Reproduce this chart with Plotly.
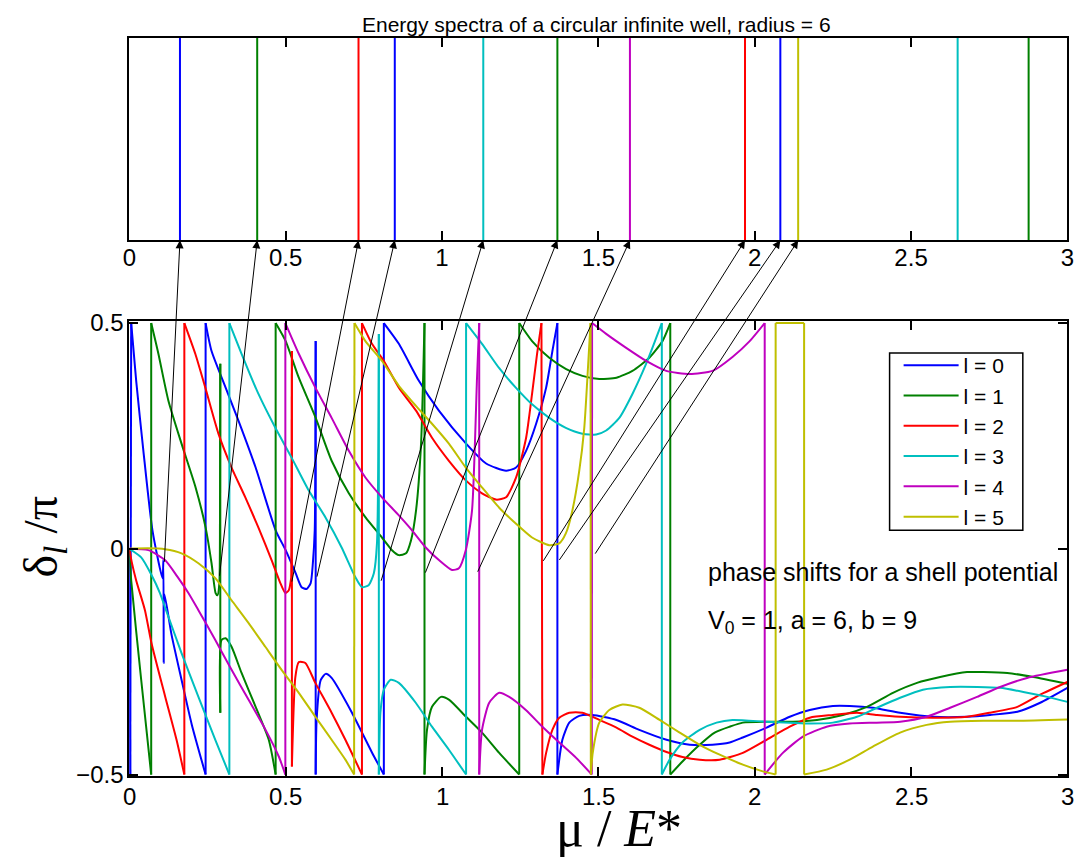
import plotly.graph_objects as go

# ---------------- data ----------------
names = ["l = 0", "l = 1", "l = 2", "l = 3", "l = 4", "l = 5"]
colors = ["#0000ff", "#008000", "#ff0000", "#00bfbf", "#bf00bf", "#bfbf00"]

# energy levels of the circular infinite well (top panel), per l
levels_l0 = [0.162, 0.849, 2.082]
levels_l1 = [0.409, 1.369, 2.876]
levels_l2 = [0.733, 1.969]
levels_l3 = [1.132, 2.649]
levels_l4 = [1.601]
levels_l5 = [2.139]

# phase shifts delta_l / pi (bottom panel), (mu/E*, value) pairs
l0_pts = [(0, 0), (0.003, -0.5), (0.006, 0.5), (0.022, 0.372), (0.045, 0.217), (0.074, 0.041),
          (0.106, -0.065), (0.109, -0.025), (0.110, -0.253), (0.112, -0.10), (0.135, -0.19),
          (0.167, -0.29), (0.20, -0.39), (0.244, -0.5), (0.244, 0.5), (0.263, 0.438), (0.308, 0.357),
          (0.349, 0.284), (0.404, 0.180), (0.468, 0.041), (0.5, -0.003), (0.532, -0.054),
          (0.551, -0.085), (0.567, -0.089), (0.580, -0.076), (0.587, -0.032), (0.593, 0.041),
          (0.596, 0.460), (0.596, -0.5), (0.599, -0.379), (0.612, -0.291), (0.628, -0.277),
          (0.647, -0.286), (0.712, -0.363), (0.776, -0.451), (0.814, -0.5), (0.814, 0.5),
          (0.862, 0.454), (0.926, 0.372), (0.990, 0.306), (1.077, 0.233), (1.141, 0.189),
          (1.205, 0.173), (1.237, 0.180), (1.269, 0.217), (1.301, 0.277), (1.333, 0.357),
          (1.353, 0.438), (1.369, 0.5), (1.369, -0.5), (1.385, -0.423), (1.407, -0.385),
          (1.439, -0.370), (1.481, -0.368), (1.558, -0.379), (1.631, -0.401), (1.718, -0.423),
          (1.792, -0.434), (1.865, -0.434), (1.920, -0.429), (1.962, -0.418), (2.038, -0.396),
          (2.112, -0.372), (2.176, -0.357), (2.25, -0.348), (2.304, -0.348), (2.378, -0.352),
          (2.465, -0.363), (2.571, -0.372), (2.679, -0.372), (2.753, -0.368), (2.84, -0.361),
          (2.913, -0.341), (3.0, -0.308)]

l1_pts = [(0, 0), (0.006, -0.07), (0.038, -0.29), (0.070, -0.5), (0.070, 0.5), (0.093, 0.432),
          (0.125, 0.328), (0.167, 0.233), (0.212, 0.136), (0.244, 0.047), (0.263, -0.032),
          (0.276, -0.098), (0.282, -0.103), (0.288, -0.076), (0.290, 0.063), (0.291, 0.410),
          (0.291, -0.363), (0.295, -0.202), (0.308, -0.198), (0.327, -0.217), (0.359, -0.275),
          (0.404, -0.350), (0.446, -0.423), (0.468, -0.5), (0.468, 0.5), (0.5, 0.460),
          (0.542, 0.379), (0.596, 0.290), (0.647, 0.195), (0.702, 0.123), (0.756, 0.069),
          (0.808, 0.025), (0.840, -0.003), (0.862, -0.014), (0.885, -0.010), (0.901, 0.019),
          (0.917, 0.085), (0.933, 0.233), (0.944, 0.5), (0.944, -0.5), (0.952, -0.401),
          (0.968, -0.350), (0.997, -0.328), (1.022, -0.334), (1.077, -0.372), (1.128, -0.407),
          (1.183, -0.452), (1.247, -0.5), (1.247, 0.5), (1.288, 0.460), (1.343, 0.423),
          (1.397, 0.398), (1.449, 0.383), (1.503, 0.376), (1.558, 0.379), (1.609, 0.394),
          (1.663, 0.423), (1.705, 0.460), (1.730, 0.5), (1.730, -0.5), (1.769, -0.471),
          (1.824, -0.434), (1.872, -0.407), (1.920, -0.394), (1.962, -0.385), (2.038, -0.383),
          (2.122, -0.383), (2.199, -0.379), (2.282, -0.368), (2.359, -0.350), (2.442, -0.319),
          (2.519, -0.297), (2.593, -0.284), (2.679, -0.273), (2.731, -0.273), (2.808, -0.275),
          (2.891, -0.284), (3.0, -0.299)]

l2_pts = [(0, 0), (0.008, -0.03), (0.022, -0.070), (0.050, -0.136), (0.071, -0.209), (0.115, -0.328),
          (0.151, -0.423), (0.176, -0.5), (0.176, 0.5), (0.211, 0.432), (0.243, 0.357),
          (0.285, 0.255), (0.327, 0.180), (0.371, 0.114), (0.413, 0.047), (0.455, -0.025),
          (0.483, -0.076), (0.499, -0.098), (0.510, -0.092), (0.518, -0.063), (0.520, 0.438),
          (0.520, -0.482), (0.531, -0.284), (0.542, -0.251), (0.563, -0.253), (0.595, -0.297),
          (0.647, -0.363), (0.691, -0.423), (0.744, -0.5), (0.744, 0.5), (0.776, 0.454),
          (0.814, 0.416), (0.862, 0.357), (0.917, 0.306), (0.968, 0.246), (1.022, 0.195),
          (1.077, 0.151), (1.128, 0.123), (1.173, 0.109), (1.205, 0.114), (1.237, 0.158),
          (1.269, 0.246), (1.288, 0.343), (1.304, 0.432), (1.318, 0.5), (1.321, -0.5),
          (1.333, -0.452), (1.353, -0.401), (1.375, -0.374), (1.407, -0.363), (1.449, -0.363),
          (1.503, -0.379), (1.558, -0.396), (1.609, -0.416), (1.663, -0.434), (1.718, -0.450),
          (1.769, -0.461), (1.824, -0.467), (1.888, -0.467), (1.962, -0.452), (2.038, -0.423),
          (2.112, -0.394), (2.176, -0.374), (2.25, -0.368), (2.327, -0.363), (2.391, -0.368),
          (2.465, -0.372), (2.571, -0.374), (2.679, -0.372), (2.753, -0.363), (2.84, -0.350),
          (2.913, -0.323), (3.0, -0.295)]

l3_pts = [(0, 0), (0.038, -0.019), (0.071, -0.058), (0.098, -0.098), (0.114, -0.129), (0.167, -0.231),
          (0.221, -0.328), (0.275, -0.423), (0.320, -0.5), (0.320, 0.5), (0.359, 0.432),
          (0.413, 0.343), (0.467, 0.268), (0.519, 0.202), (0.574, 0.129), (0.627, 0.070),
          (0.679, 0.003), (0.723, -0.063), (0.744, -0.085), (0.766, -0.080), (0.782, -0.054),
          (0.792, 0.012), (0.798, 0.476), (0.798, -0.5), (0.803, -0.363), (0.814, -0.312),
          (0.836, -0.290), (0.862, -0.297), (0.916, -0.341), (0.968, -0.394), (1.022, -0.445),
          (1.077, -0.5), (1.077, 0.5), (1.128, 0.454), (1.183, 0.400), (1.236, 0.357),
          (1.288, 0.320), (1.343, 0.290), (1.396, 0.268), (1.449, 0.255), (1.493, 0.253),
          (1.525, 0.262), (1.567, 0.290), (1.609, 0.343), (1.653, 0.410), (1.685, 0.467),
          (1.703, 0.5), (1.703, -0.5), (1.728, -0.467), (1.769, -0.429), (1.824, -0.401),
          (1.878, -0.385), (1.929, -0.379), (2.038, -0.383), (2.112, -0.385), (2.176, -0.387),
          (2.25, -0.385), (2.327, -0.372), (2.391, -0.352), (2.465, -0.330), (2.538, -0.312),
          (2.625, -0.306), (2.712, -0.306), (2.785, -0.308), (2.859, -0.317), (2.936, -0.328),
          (3.0, -0.339)]

l4_pts = [(0, 0), (0.061, -0.003), (0.114, -0.025), (0.157, -0.065), (0.189, -0.098), (0.221, -0.136),
          (0.275, -0.202), (0.327, -0.268), (0.381, -0.334), (0.435, -0.400), (0.478, -0.460),
          (0.499, -0.5), (0.499, 0.5), (0.542, 0.432), (0.595, 0.357), (0.647, 0.290),
          (0.702, 0.217), (0.755, 0.158), (0.808, 0.114), (0.862, 0.074), (0.904, 0.041),
          (0.948, 0.003), (0.990, -0.025), (1.032, -0.047), (1.054, -0.043), (1.076, -0.003),
          (1.096, 0.085), (1.112, 0.379), (1.119, 0.5), (1.119, -0.5), (1.128, -0.401),
          (1.151, -0.341), (1.183, -0.319), (1.215, -0.328), (1.268, -0.357), (1.321, -0.394),
          (1.375, -0.429), (1.429, -0.463), (1.479, -0.5), (1.480, 0.5), (1.525, 0.476),
          (1.589, 0.445), (1.653, 0.416), (1.717, 0.394), (1.792, 0.387), (1.865, 0.394),
          (1.929, 0.425), (1.984, 0.460), (2.032, 0.5), (2.032, -0.5), (2.090, -0.452),
          (2.154, -0.416), (2.230, -0.394), (2.304, -0.387), (2.390, -0.385), (2.465, -0.383),
          (2.550, -0.372), (2.625, -0.352), (2.711, -0.328), (2.785, -0.306), (2.871, -0.286),
          (3.0, -0.268)]

l5_pts = [(0, 0), (0.061, 0.001), (0.114, -0.001), (0.167, -0.010), (0.221, -0.032), (0.275, -0.065),
          (0.327, -0.114), (0.381, -0.164), (0.435, -0.217), (0.487, -0.268), (0.542, -0.319),
          (0.595, -0.372), (0.647, -0.423), (0.691, -0.467), (0.719, -0.5), (0.720, 0.5),
          (0.755, 0.460), (0.808, 0.416), (0.862, 0.361), (0.916, 0.317), (0.968, 0.277),
          (1.022, 0.233), (1.076, 0.180), (1.128, 0.136), (1.183, 0.091), (1.236, 0.056),
          (1.288, 0.025), (1.343, 0.008), (1.375, 0.012), (1.396, 0.034), (1.417, 0.085),
          (1.439, 0.173), (1.455, 0.268), (1.465, 0.379), (1.475, 0.5), (1.476, -0.5),
          (1.482, -0.452), (1.503, -0.385), (1.535, -0.357), (1.577, -0.345), (1.631, -0.352),
          (1.696, -0.379), (1.760, -0.407), (1.824, -0.434), (1.888, -0.456), (1.962, -0.478),
          (2.026, -0.493), (2.067, -0.5), (2.067, 0.5), (2.158, 0.5), (2.158, -0.5),
          (2.230, -0.489), (2.304, -0.467), (2.378, -0.438), (2.465, -0.407), (2.550, -0.390),
          (2.625, -0.383), (2.731, -0.381), (2.839, -0.381), (3.0, -0.378)]

# arrows: from a point of the phase-shift panel to a level of the spectrum
arrow_head_x = [0.162, 0.409, 0.733, 0.849, 1.132, 1.369, 1.601, 1.969, 2.082, 2.139]
arrow_tail_x = [0.112, 0.288, 0.519, 0.599, 0.804, 0.945, 1.112, 1.321, 1.372, 1.487]
arrow_tail_y = [-0.032, -0.063, -0.076, -0.065, -0.074, -0.056, -0.054, -0.030, -0.028, -0.014]

x_ticks = [0, 0.5, 1, 1.5, 2, 2.5, 3]
x_ticktext = ["0", "0.5", "1", "1.5", "2", "2.5", "3"]
y_ticks = [-0.5, 0, 0.5]
y_ticktext = ["\u22120.5", "0", "0.5"]

# ---------------- geometry ----------------
W, H = 1083, 868
# the page is photographed slightly scaled / offset; map wanted screen px -> page px
SX, OX = 0.9854, 7.9
SY, OY = 0.9756, 9.9


def sx(t):
    return (t - OX) / SX


def sy(t):
    return (t - OY) / SY


def pxx(t):          # wanted screen x -> paper fraction
    return sx(t) / W


def pxy(t):          # wanted screen y -> paper fraction
    return 1 - sy(t) / H


PX_X0, PX_X1 = 130.0, 1066.5
TOP_PY0, TOP_PY1 = 36.0, 239.0
BOT_PY0, BOT_PY1 = 322.0, 775.0     # rows of +0.5 and -0.5
YPAD = 0.004

top0, top1 = sy(TOP_PY0), sy(TOP_PY1)
bot0, bot1 = sy(BOT_PY0), sy(BOT_PY1)
bot_scale = bot1 - bot0

x_dom = [pxx(PX_X0), pxx(PX_X1)]
top_dom = [1 - top1 / H, 1 - top0 / H]
bot_dom = [1 - (bot1 + YPAD * bot_scale) / H, 1 - (bot0 - YPAD * bot_scale) / H]

FONT = "Liberation Sans, Arial, sans-serif"
SERIF = "Liberation Serif, Times New Roman, serif"

fig = go.Figure()

# top panel: spectrum lines
all_levels = [levels_l0, levels_l1, levels_l2, levels_l3, levels_l4, levels_l5]
for lev, col in zip(all_levels, colors):
    xs, ys = [], []
    for v in lev:
        xs += [v, v, None]
        ys += [0, 1, None]
    fig.add_trace(go.Scatter(x=xs, y=ys, mode="lines", line=dict(color=col, width=2),
                             showlegend=False, hoverinfo="skip", xaxis="x", yaxis="y"))


def split_wraps(pts):
    """smooth branches (separated at the +-pi/2 wraps) and the vertical wrap segments"""
    sxs, sys_, jx, jy = [], [], [], []
    for i, (x, y) in enumerate(pts):
        if i > 0:
            x0, y0 = pts[i - 1]
            if abs(x - x0) < 0.01 and abs(y - y0) > 0.5:
                sxs.append(None)
                sys_.append(None)
                jx += [x0, x, None]
                jy += [y0, y, None]
        sxs.append(x)
        sys_.append(y)
    return sxs, sys_, jx, jy


# bottom panel: phase shifts
all_pts = [l0_pts, l1_pts, l2_pts, l3_pts, l4_pts, l5_pts]
for pts, col, nm in zip(all_pts, colors, names):
    bx, by, jx, jy = split_wraps(pts)
    fig.add_trace(go.Scatter(x=bx, y=by, mode="lines",
                             line=dict(color=col, width=2, shape="spline", smoothing=0.6),
                             name=nm, legendgroup=nm, connectgaps=False,
                             xaxis="x2", yaxis="y2"))
    fig.add_trace(go.Scatter(x=jx, y=jy, mode="lines", line=dict(color=col, width=2),
                             legendgroup=nm, showlegend=False, hoverinfo="skip",
                             xaxis="x2", yaxis="y2"))

axis_common = dict(showline=True, linecolor="black", linewidth=2, mirror="ticks",
                   showgrid=False, zeroline=False, ticks="inside", ticklen=9, tickwidth=1.5,
                   tickcolor="black", tickfont=dict(family=FONT, size=24, color="black"))

fig.update_layout(
    width=W, height=H,
    margin=dict(l=0, r=0, t=0, b=0),
    paper_bgcolor="white", plot_bgcolor="white",
    xaxis=dict(domain=x_dom, range=[0, 3], anchor="y", tickvals=x_ticks, ticktext=x_ticktext,
               ticklabelstandoff=-5, **axis_common),
    yaxis=dict(domain=top_dom, range=[0, 1], anchor="x", showline=True, linecolor="black",
               linewidth=2, mirror=True, showgrid=False, zeroline=False, ticks="",
               showticklabels=False),
    xaxis2=dict(domain=x_dom, range=[0, 3], anchor="y2", tickvals=x_ticks,
                showticklabels=False, **axis_common),
    yaxis2=dict(domain=bot_dom, range=[-0.5 - YPAD, 0.5 + YPAD], anchor="x2", tickvals=y_ticks,
                ticktext=y_ticktext, ticklabelstandoff=-1, **axis_common),
    legend=dict(x=pxx(898), y=pxy(344), xanchor="left", yanchor="top",
                bgcolor="rgba(0,0,0,0)", borderwidth=0,
                font=dict(family=FONT, size=21, color="black"), tracegroupgap=0,
                itemwidth=55),
    showlegend=True,
)

# legend frame
fig.add_shape(type="rect", xref="paper", yref="paper",
              x0=pxx(889), x1=pxx(1022), y0=pxy(530), y1=pxy(352),
              line=dict(color="black", width=1.5), fillcolor="white", layer="below")

annotations = []
# arrows
for hx, tx, ty in zip(arrow_head_x, arrow_tail_x, arrow_tail_y):
    py = bot0 + (0.5 - ty) * bot_scale
    ay_top = (top1 - py) / (top1 - top0)
    annotations.append(dict(x=hx, y=0, xref="x", yref="y", ax=tx, ay=ay_top, axref="x", ayref="y",
                            text="", showarrow=True, arrowhead=2, arrowsize=1.6, arrowwidth=1,
                            arrowcolor="black", standoff=0, startstandoff=0))

# bottom x-axis tick labels
for tv, tt in zip(x_ticks, x_ticktext):
    annotations.append(dict(x=tv, y=pxy(797), xref="x2", yref="paper", text=tt,
                            showarrow=False, font=dict(family=FONT, size=24, color="black"),
                            xanchor="center", yanchor="middle", borderpad=0))

# texts
annotations.append(dict(x=pxx(596), y=1.0, xref="paper", yref="paper",
                        text="Energy spectra of a circular infinite well, radius = 6",
                        showarrow=False, font=dict(family=FONT, size=21, color="black"),
                        xanchor="center", yanchor="top", borderpad=0))
annotations.append(dict(x=pxx(706), y=pxy(572), xref="paper", yref="paper",
                        text="phase shifts for a shell potential", showarrow=False,
                        font=dict(family=FONT, size=25, color="black"),
                        xanchor="left", yanchor="middle"))
annotations.append(dict(x=pxx(706), y=pxy(622), xref="paper", yref="paper",
                        text="V<sub>0</sub> = 1, a = 6, b = 9", showarrow=False,
                        font=dict(family=FONT, size=25, color="black"),
                        xanchor="left", yanchor="middle"))
annotations.append(dict(x=pxx(45), y=pxy(536), xref="paper", yref="paper",
                        text="\u03b4<sub><i>l</i></sub> /\u03c0", showarrow=False, textangle=-90,
                        font=dict(family=SERIF, size=48, color="black"),
                        xanchor="center", yanchor="middle"))
annotations.append(dict(x=pxx(619), y=pxy(829), xref="paper", yref="paper",
                        text="\u03bc / <i>E</i>*", showarrow=False,
                        font=dict(family=SERIF, size=52, color="black"),
                        xanchor="center", yanchor="middle", borderpad=0))
fig.update_layout(annotations=annotations)

fig.write_html("out.html")
